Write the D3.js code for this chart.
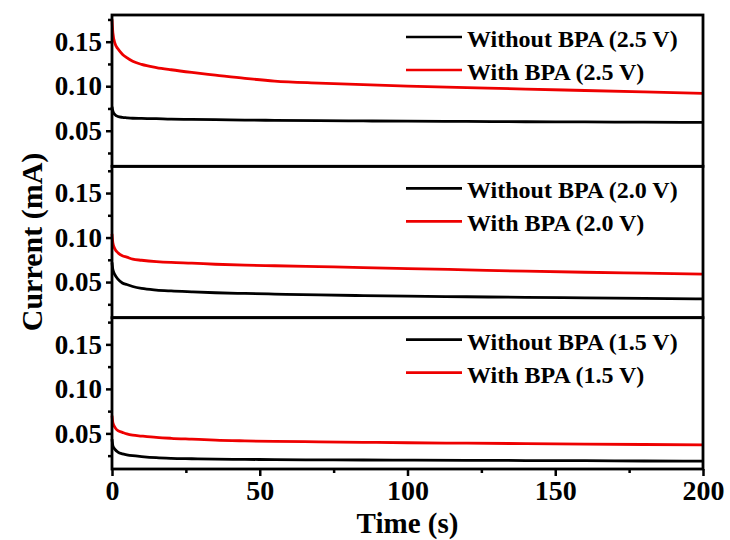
<!DOCTYPE html>
<html>
<head>
<meta charset="utf-8">
<script src="https://cdn.jsdelivr.net/npm/d3@7"></script>
<style>
  html, body { margin: 0; padding: 0; background: #fff; }
  svg { display: block; }
  text { font-family: "Liberation Serif", "Times New Roman", serif; font-weight: bold; fill: #000; }
</style>
</head>
<body>
<svg id="chart" width="730" height="540"></svg>
<script>
// Chronoamperometry traces, current (mA) against time (s)
const times = [0, 0.3, 1, 2, 3.5, 5, 7, 10, 15, 20, 27, 35, 45, 55, 70, 85, 100, 120, 140, 160, 180, 200];

const without25 = [0.077, 0.072, 0.068, 0.066, 0.065, 0.0645, 0.064, 0.0638, 0.0635, 0.063, 0.0628, 0.0625, 0.062, 0.0617, 0.0613, 0.061, 0.0607, 0.0604, 0.0601, 0.0599, 0.0596, 0.0594];
const with25    = [0.175, 0.160, 0.148, 0.142, 0.136, 0.132, 0.128, 0.1245, 0.121, 0.1185, 0.1155, 0.1125, 0.1088, 0.1058, 0.1035, 0.1017, 0.1002, 0.0985, 0.0968, 0.0952, 0.0936, 0.092];

const without20 = [0.072, 0.064, 0.058, 0.0534, 0.049, 0.0472, 0.045, 0.0428, 0.041, 0.040, 0.039, 0.038, 0.0372, 0.0365, 0.0355, 0.0348, 0.0342, 0.0335, 0.0328, 0.0322, 0.0316, 0.031];
const with20    = [0.104, 0.094, 0.087, 0.083, 0.0795, 0.078, 0.0757, 0.0745, 0.073, 0.072, 0.0712, 0.070, 0.069, 0.0683, 0.0673, 0.0663, 0.0652, 0.0637, 0.0622, 0.061, 0.060, 0.059];

const without15 = [0.0435, 0.036, 0.032, 0.029, 0.027, 0.026, 0.025, 0.024, 0.0227, 0.022, 0.0215, 0.021, 0.0208, 0.0205, 0.0203, 0.0201, 0.020, 0.0198, 0.0195, 0.0193, 0.019, 0.0188];
const with15    = [0.070, 0.062, 0.0568, 0.053, 0.0512, 0.0495, 0.048, 0.047, 0.0455, 0.0445, 0.0435, 0.0424, 0.0416, 0.041, 0.0405, 0.040, 0.0395, 0.039, 0.0385, 0.038, 0.0375, 0.037];

const voltages = ["2.5 V", "2.0 V", "1.5 V"];
const withoutSeries = [without25, without20, without15];
const withSeries = [with25, with20, with15];

const yMajorTicks = [0.05, 0.10, 0.15];
const yMinorTicks = [0.025, 0.075, 0.125, 0.175];
const xMajorTicks = [0, 50, 100, 150, 200];
const xMinorTicks = [25, 75, 125, 175];

const yDomain = [0.01, 0.18];
const xDomain = [0, 200];

const svg = d3.select("#chart");
const plotLeft = 112, plotRight = 703, plotTop = 15, plotBottom = 469;
const panelH = (plotBottom - plotTop) / voltages.length;

const x = d3.scaleLinear().domain(xDomain).range([plotLeft, plotRight]);

voltages.forEach((v, i) => {
  const pTop = plotTop + i * panelH;
  const pBottom = pTop + panelH;
  const y = d3.scaleLinear().domain(yDomain).range([pBottom, pTop]);
  const g = svg.append("g");

  const line = d3.line().x((d, k) => x(times[k])).y(d => y(d)).curve(d3.curveMonotoneX);

  g.append("path").datum(withoutSeries[i])
    .attr("d", line).attr("fill", "none")
    .attr("stroke", "#000").attr("stroke-width", 2.8).attr("stroke-linejoin", "round");
  g.append("path").datum(withSeries[i])
    .attr("d", line).attr("fill", "none")
    .attr("stroke", "#ee0000").attr("stroke-width", 2.8).attr("stroke-linejoin", "round");

  // left axis with major labels and minor ticks
  const yAxis = d3.axisLeft(y).tickValues(yMajorTicks).tickFormat(d3.format(".2f"))
    .tickSizeInner(6).tickSizeOuter(0).tickPadding(4);
  const ax = g.append("g").attr("transform", `translate(${plotLeft},0)`).call(yAxis);
  ax.select(".domain").remove();
  ax.selectAll(".tick line").attr("stroke-width", 2.5);
  ax.selectAll(".tick text").style("font-size", "27px").attr("font-family", null);

  const axMinor = d3.axisLeft(y).tickValues(yMinorTicks).tickFormat("").tickSizeInner(4).tickSizeOuter(0);
  const am = g.append("g").attr("transform", `translate(${plotLeft},0)`).call(axMinor);
  am.select(".domain").remove();
  am.selectAll(".tick line").attr("stroke-width", 2.5);

  // panel frame
  g.append("rect").attr("x", plotLeft).attr("y", pTop)
    .attr("width", plotRight - plotLeft).attr("height", panelH)
    .attr("fill", "none").attr("stroke", "#000").attr("stroke-width", 2.8);

  // legend
  const lg = g.append("g");
  const rows = [["Without BPA (" + v + ")", "#000"], ["With BPA (" + v + ")", "#ee0000"]];
  rows.forEach((r, k) => {
    const ly = pTop + 22 + k * 33;
    lg.append("line").attr("x1", 406).attr("x2", 462).attr("y1", ly).attr("y2", ly)
      .attr("stroke", r[1]).attr("stroke-width", 2.6);
    lg.append("text").attr("x", 467).attr("y", ly + 10).style("font-size", "24px").text(r[0]);
  });
});

// bottom time axis
const xAxis = d3.axisBottom(x).tickValues(xMajorTicks).tickFormat(d3.format("d"))
  .tickSizeInner(7).tickSizeOuter(0).tickPadding(4);
const xa = svg.append("g").attr("transform", `translate(0,${plotBottom})`).call(xAxis);
xa.select(".domain").remove();
xa.selectAll(".tick line").attr("stroke-width", 2.5);
xa.selectAll(".tick text").style("font-size", "28px").attr("font-family", null);

const xMinor = d3.axisBottom(x).tickValues(xMinorTicks).tickFormat("").tickSizeInner(4).tickSizeOuter(0);
const xm = svg.append("g").attr("transform", `translate(0,${plotBottom})`).call(xMinor);
xm.select(".domain").remove();
xm.selectAll(".tick line").attr("stroke-width", 2.5);

// axis titles
svg.append("text").attr("x", (plotLeft + plotRight) / 2).attr("y", 533)
  .attr("text-anchor", "middle").style("font-size", "29px").text("Time (s)");
svg.append("text").attr("transform", `translate(42,${(plotTop + plotBottom) / 2}) rotate(-90)`)
  .attr("text-anchor", "middle").style("font-size", "30px").text("Current (mA)");
</script>
</body>
</html>
